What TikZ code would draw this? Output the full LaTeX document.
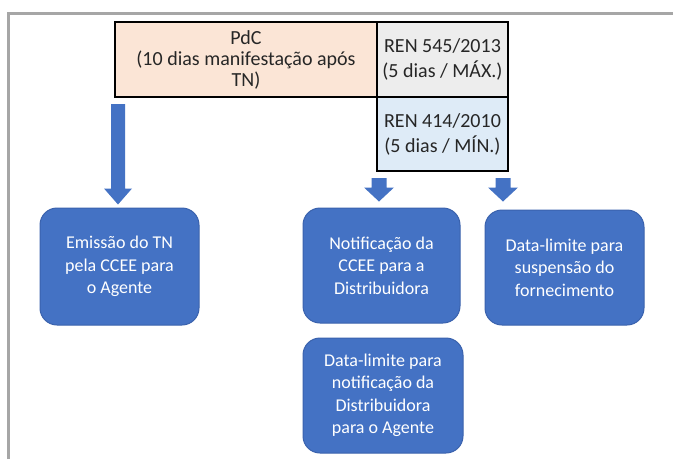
\documentclass[tikz,border=0pt]{standalone}
\usepackage{fontspec}
\setmainfont{Carlito}
\usetikzlibrary{calc}
\definecolor{boxblue}{HTML}{4472C4}
\definecolor{boxedge}{HTML}{3A62AD}
\definecolor{peach}{HTML}{FBE5D6}
\definecolor{lgray}{HTML}{EDEDED}
\definecolor{lblue}{HTML}{DEEBF7}
\definecolor{frameGray}{HTML}{A6A6A6}
\definecolor{txt}{HTML}{262626}
\newcommand\blkarrow[5]{%
  \fill[arrowfill] let \p1=(#1), \p2=(#2) in
  (\x1-#3pt,\y1) -- (\x1+#3pt,\y1) -- (\x1+#3pt,\y2+#5pt) -- (\x1+#4pt,\y2+#5pt)
  -- (\x1,\y2) -- (\x1-#4pt,\y2+#5pt) -- (\x1-#3pt,\y2+#5pt) -- cycle;}
\begin{document}
\begin{tikzpicture}[x=1pt,y=-1pt,
  cell/.style={draw=black,line width=2pt,inner sep=0pt,text=txt,align=center,font=\fontsize{20}{21}\selectfont},
  rencell/.style={cell,font=\fontsize{20}{25}\selectfont},
  bluebox/.style={draw=boxedge,fill=boxblue,line width=1pt,rounded corners=17pt,text=white,align=center,inner sep=0pt,font=\fontsize{18}{22.5}\selectfont},
  arrowfill/.style={fill=boxblue}]
\useasboundingbox (0,0) rectangle (673,459);
\fill[white] (0,0) rectangle (673,459);
\draw[frameGray,line width=3pt] (8,459) -- (8,13) -- (673,13);

% table
\node[cell,fill=peach,minimum width=262pt,minimum height=75pt] (pdc) at (246,59.5)
  {PdC\\(10 dias manifestação após\\TN)};
\node[rencell,fill=lgray,minimum width=131pt,minimum height=75pt] (ren545) at (442.5,59.5)
  {REN 545/2013\\(5 dias / MÁX.)};
\node[rencell,fill=lblue,minimum width=131pt,minimum height=74pt] (ren414) at (442.5,134)
  {REN 414/2010\\(5 dias / MÍN.)};

% boxes
\node[bluebox,minimum width=159pt,minimum height=117pt] (b1) at (119.5,266.5)
  {Emissão do TN\\pela CCEE para\\o Agente};
\node[bluebox,minimum width=157pt,minimum height=115pt] (b2) at (381.5,265.5)
  {Notificação da\\CCEE para a\\Distribuidora};
\node[bluebox,minimum width=159pt,minimum height=115pt] (b3) at (564.5,267.5)
  {Data-limite para\\suspensão do\\fornecimento};
\node[bluebox,minimum width=160pt,minimum height=115pt] (b4) at (383,395.5)
  {Data-limite para\\notificação da\\Distribuidora\\para o Agente};

% arrows
\coordinate (aTop) at ($(pdc.south west)+(4,6)$);
\coordinate (aTip) at ($(aTop |- b1.north)+(0,-3)$);
\coordinate (bTop) at ($(ren414.south west)+(3,6)$);
\coordinate (bTip) at ($(bTop |- b2.north)+(0,-6)$);
\coordinate (cTop) at ($(ren414.south east)+(-6,6)$);
\coordinate (cTip) at ($(cTop |- b3.north)+(0,-8)$);
\blkarrow{aTop}{aTip}{7}{14}{16}
\blkarrow{bTop}{bTip}{7.5}{15}{14}
\blkarrow{cTop}{cTip}{7.5}{15}{14}
\end{tikzpicture}
\end{document}
